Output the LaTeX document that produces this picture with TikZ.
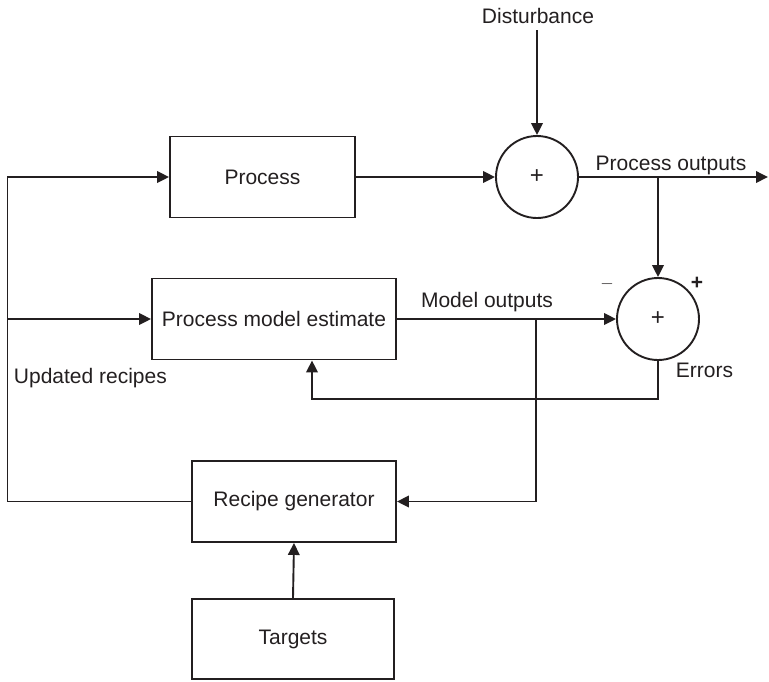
\documentclass[tikz,border=0pt]{standalone}
\usepackage{fontspec}
\setmainfont{Liberation Sans}
\usetikzlibrary{arrows.meta,calc}
\definecolor{ink}{HTML}{231F20}

\begin{document}
\begin{tikzpicture}[x=1pt,y=-1pt,
  line width=1.9pt, color=ink,
  every node/.style={font=\fontsize{21}{25}\selectfont, inner sep=0pt, text=ink},
  blockbox/.style={draw, rectangle, line width=1.9pt},
  sumnode/.style={draw, circle, minimum size=82pt, line width=1.9pt},
  flow/.style={-{Triangle[length=12pt,width=11.5pt]}},
  lbl/.style={anchor=base}
]
\useasboundingbox (0,0) rectangle (769,681);

% blocks
\node[blockbox, minimum width=185pt, minimum height=81pt] (proc) at (262.5,177) {Process};
\node[blockbox, minimum width=244pt, minimum height=81pt] (pme) at (274,319) {Process model estimate};
\node[blockbox, minimum width=204pt, minimum height=81pt] (rg) at (294,501.5) {Recipe generator};
\node[blockbox, minimum width=202pt, minimum height=80pt] (tg) at (293,639) {Targets};

% summing junctions
\node[sumnode] (c1) at (537,177) {\fontsize{24}{26}\selectfont +};
\node[sumnode] (c2) at (658,319) {\fontsize{24}{26}\selectfont +};

% free ends and branch points
\coordinate (dist) at (537,30);
\coordinate (out) at (768,177);
\coordinate (mb) at (536,319);
\coordinate (fb) at (312,399);
\coordinate (lb) at (7.5,501.5);

% labels
\node[lbl] (tdist) at (538,23) {Disturbance};
\node[lbl] (tpo) at (671,170) {Process outputs};
\node[lbl] (tmo) at (487,307) {Model outputs};
\node[lbl, anchor=base west] (terr) at (675,377) {Errors};
\node[lbl, anchor=base west] (tur) at (13,383) {Updated recipes};
\node (tminus) at (607,284) {\fontsize{16}{18}\selectfont $-$};
\node (tplus) at (697,283) {\bfseries +};

% connectors
\draw[flow] (dist) -- (c1.north);
\draw[flow] (proc.east) -- (c1.west);
\draw[flow] (c1.east) -- (out);
\draw[flow] (c2.north |- c1.east) -- (c2.north);
\draw[flow] (pme.east) -- (c2.west);
\draw[flow] (c2.south) |- (fb) -- (fb |- pme.south);
\draw[flow] (mb) |- (rg.east);
\draw (rg.west) -- (lb);
\draw[flow] (lb) |- (proc.west);
\draw[flow] (lb |- pme.west) -- (pme.west);
\draw[flow] (tg.north) -- (rg.south);
\end{tikzpicture}
\end{document}
